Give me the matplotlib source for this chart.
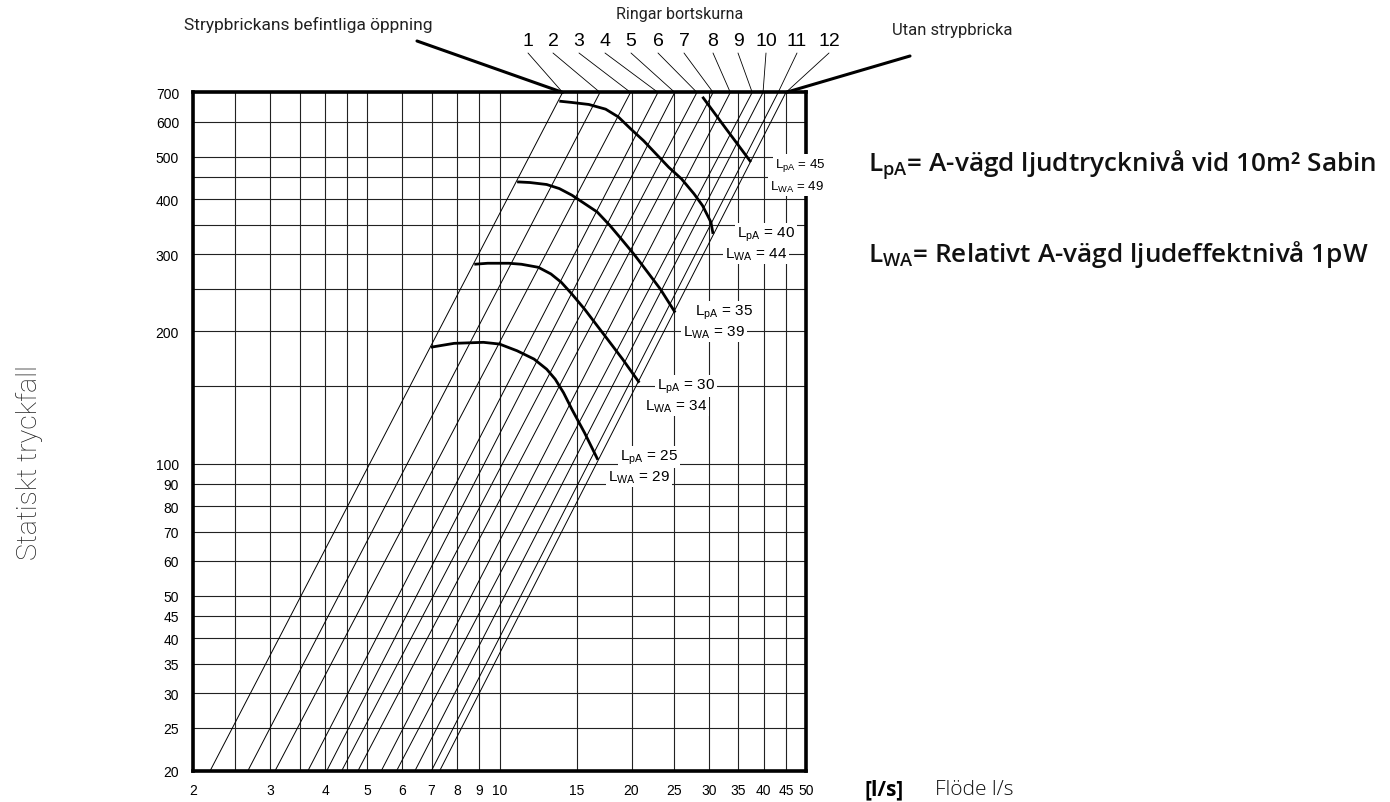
import matplotlib
matplotlib.use('Agg')
import matplotlib.pyplot as plt
from matplotlib.patches import ConnectionPatch
from matplotlib.ticker import NullLocator

# ---- data ----
# diagonal lines: flow [l/s] where each line meets 20 Pa and 700 Pa
line_q20 = [2.19, 2.67, 3.08, 3.66, 4.04, 4.37, 4.76, 5.38, 5.83, 6.42, 7.00, 7.31]
line_q700 = [13.93, 16.95, 19.9, 22.98, 25.1, 28.2, 30.7, 33.6, 37.7, 39.9, 43.2, 45.0]
p_low = 20
p_high = 700
ring_labels = ['1', '2', '3', '4', '5', '6', '7', '8', '9', '10', '11', '12']

# sound level curves (flow, pressure)
c25_q = [6.97, 7.88, 9.19, 10.0, 10.97, 11.99, 12.81, 13.4, 14.0, 14.63, 15.63, 16.76]
c25_p = [184, 187.8, 188.8, 187.1, 180.6, 172.9, 164.0, 155.6, 144.9, 132.8, 117.5, 102]
c30_q = [8.76, 9.40, 10.50, 11.22, 12.26, 13.10, 13.84, 14.63, 15.63, 16.70, 17.85, 19.08, 19.94, 20.84]
c30_p = [284.3, 285.8, 285.8, 284.3, 279.8, 270.2, 258.5, 243.1, 224.7, 206.0, 188.8, 172.9, 162.5, 152.8]
c35_q = [10.97, 11.73, 12.81, 13.69, 14.63, 15.63, 16.70, 17.85, 19.08, 20.38, 21.78, 23.27, 25.16]
c35_p = [437.9, 436.4, 431.9, 422.8, 408.3, 390.8, 374.0, 348.5, 322.1, 297.4, 272.5, 249.6, 220.7]
c40_q = [13.69, 14.63, 15.98, 17.46, 18.66, 19.94, 21.31, 22.77, 24.33, 26.00, 27.77, 29.03, 30.35, 30.69]
c40_p = [668.6, 664.0, 657.1, 641.1, 615.6, 577.5, 543.3, 506.6, 472.5, 444.9, 411.3, 386.9, 354.5, 333.4]
c45_q = [29.03, 32.9, 37.43]
c45_p = [684, 577.5, 485.9]
lpa_levels = [25, 30, 35, 40, 45]
lwa_levels = [29, 34, 39, 44, 49]

x_ticks = [2, 3, 4, 5, 6, 7, 8, 9, 10, 15, 20, 25, 30, 35, 40, 45, 50]
x_grid = x_ticks + [2.5, 3.5, 4.5]
y_ticks = [20, 25, 30, 35, 40, 45, 50, 60, 70, 80, 90, 100, 200, 300, 400, 500, 600, 700]
y_grid = y_ticks + [150, 250, 350, 450]

W, H = 1390, 803


def px(x, y):
    # reference pixel position -> figure fraction
    return x / W, 1 - y / H


fig = plt.figure(figsize=(W / 100, H / 100), dpi=100)
ax = fig.add_axes([193 / W, 1 - 771.5 / H, 613 / W, 678.1 / H])
ax.set_xscale('log')
ax.set_yscale('log')
ax.set_xlim(2, 50)
ax.set_ylim(20, 700)

for xv in x_grid:
    ax.axvline(xv, color='#222222', lw=0.8, zorder=1)
for yv in y_grid:
    ax.axhline(yv, color='#222222', lw=0.8, zorder=1)

for q0, q1 in zip(line_q20, line_q700):
    ax.plot([q0, q1], [p_low, p_high], color='black', lw=0.7, zorder=2)

for cq, cp in [(c25_q, c25_p), (c30_q, c30_p), (c35_q, c35_p), (c40_q, c40_p), (c45_q, c45_p)]:
    ax.plot(cq, cp, color='black', lw=2.0, zorder=3, solid_capstyle='butt')

ax.set_xticks(x_ticks)
ax.set_xticklabels([str(t) for t in x_ticks])
ax.set_yticks(y_ticks)
ax.set_yticklabels([str(t) for t in y_ticks])
ax.xaxis.set_minor_locator(NullLocator())
ax.yaxis.set_minor_locator(NullLocator())
ax.tick_params(length=0, labelsize=10)
ax.tick_params(axis='x', pad=9)
ax.tick_params(axis='y', pad=10)
for lab in ax.get_xticklabels() + ax.get_yticklabels():
    lab.set_family('Liberation Sans')
for s in ax.spines.values():
    s.set_linewidth(2.6)
    s.set_zorder(2.5)

# curve labels
lpa_pos = [(620, 458), (657, 387), (695, 313), (737, 235), (775, 166)]
lwa_pos = [(608, 478), (645, 407), (683, 333), (725, 255), (770, 187)]
for i in range(len(lpa_levels)):
    fs = 9.5 if i == 4 else 11
    fig.text(*px(*lpa_pos[i]), 'L$_\\mathregular{pA}$ = %d' % lpa_levels[i], fontsize=fs,
             family='Liberation Sans', ha='left', va='center', zorder=5,
             bbox=dict(fc='white', ec='none', pad=1.5))
    fig.text(*px(*lwa_pos[i]), 'L$_\\mathregular{WA}$ = %d' % lwa_levels[i], fontsize=fs,
             family='Liberation Sans', ha='left', va='center', zorder=5,
             bbox=dict(fc='white', ec='none', pad=1.5))

# ring numbers and leaders
num_x = [528, 553, 579, 605, 631, 658, 684, 713, 738, 766, 797, 829]
for i, lab in enumerate(ring_labels):
    fig.text(*px(num_x[i], 42), lab, fontsize=14, family='Liberation Sans',
             ha='center', va='center')
    con = ConnectionPatch(xyA=(num_x[i], H - 54), coordsA='figure pixels',
                          xyB=(line_q700[i], p_high), coordsB=ax.transData,
                          color='black', lw=0.6)
    fig.add_artist(con)

fig.text(*px(680, 15), 'Ringar bortskurna', fontsize=11.5, family='Roboto',
         ha='center', va='center', color='#222222')
fig.text(*px(308, 25), 'Strypbrickans befintliga öppning', fontsize=12.5, family='Roboto',
         ha='center', va='center', color='#222222')
fig.text(*px(952, 30), 'Utan strypbricka', fontsize=12, family='Roboto',
         ha='center', va='center', color='#222222')
fig.add_artist(ConnectionPatch(xyA=(417, H - 42), coordsA='figure pixels',
                               xyB=(line_q700[0], p_high), coordsB=ax.transData,
                               color='black', lw=2.2))
fig.add_artist(ConnectionPatch(xyA=(910, H - 57), coordsA='figure pixels',
                               xyB=(line_q700[-1], p_high), coordsB=ax.transData,
                               color='black', lw=2.2))

fig.text(*px(30, 463), 'Statiskt tryckfall', fontsize=20.5, family='Roboto',
         fontweight='light', rotation=90, ha='center', va='center', color='#222222')

fig.text(*px(868, 165), 'L$_\\mathregular{pA}$= A-vägd ljudtrycknivå vid 10m² Sabin',
         fontsize=18.8, family='Open Sans', fontweight='semibold', ha='left', va='center',
         color='#111111')
fig.text(*px(868, 255), 'L$_\\mathregular{WA}$= Relativt A-vägd ljudeffektnivå 1pW',
         fontsize=18.8, family='Open Sans', fontweight='semibold', ha='left', va='center',
         color='#111111')

fig.text(*px(865, 790), '[l/s]', fontsize=15, family='Open Sans', fontweight='bold',
         ha='left', va='center')
fig.text(*px(935, 790), 'Flöde l/s', fontsize=15, family='Open Sans', fontweight='light',
         ha='left', va='center', color='#111111')

fig.savefig('out.png', dpi=100)
